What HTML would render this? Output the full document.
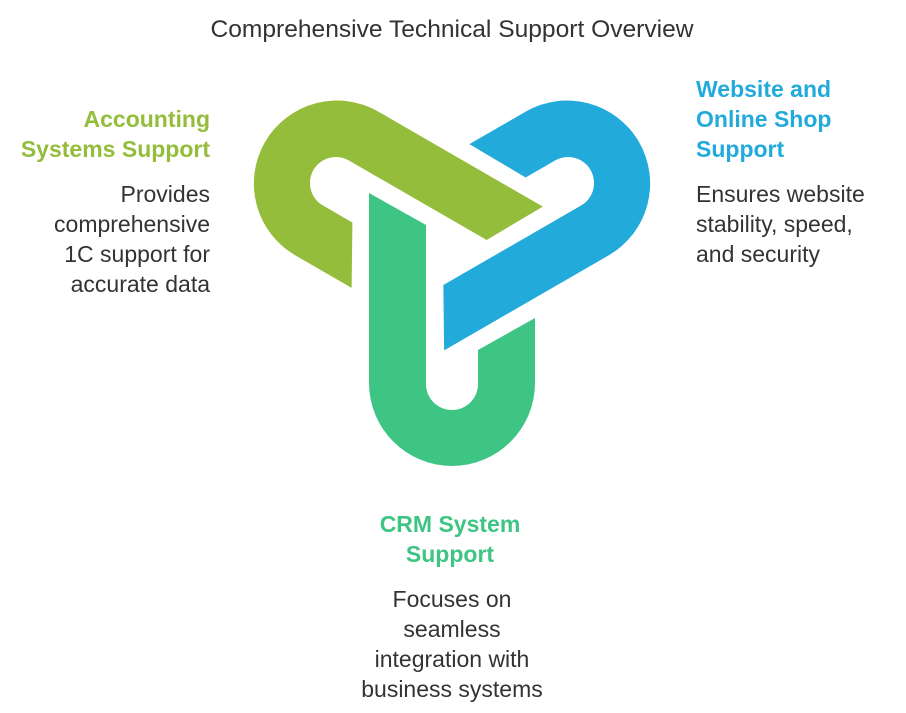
<!DOCTYPE html>
<html><head><meta charset="utf-8"><style>
html,body{margin:0;padding:0;background:#fff;}
svg{display:block;}
text{font-family:"Liberation Sans",sans-serif;}
</style></head><body>
<svg width="906" height="713" viewBox="0 0 906 713" xmlns="http://www.w3.org/2000/svg">
<defs>
<path id="u" d="M369,193 L426,225 L426,384 A26,26 0 0 0 478,384 L478,350 L535,318 L535,383 A83,83 0 0 1 369,383 Z"/>
</defs>
<use href="#u" fill="#3EC483"/>
<use href="#u" fill="#94BD3B" transform="rotate(120 452 250)"/>
<use href="#u" fill="#22AADB" transform="rotate(240 452 250)"/>

<text x="452" y="37" font-size="24" fill="#333" text-anchor="middle" textLength="483" lengthAdjust="spacingAndGlyphs">Comprehensive Technical Support Overview</text>

<g font-size="23" font-weight="bold" fill="#94BD3B" text-anchor="end">
<text x="210" y="127">Accounting</text>
<text x="210" y="157">Systems Support</text>
</g>
<g font-size="23" fill="#333" text-anchor="end">
<text x="210" y="202">Provides</text>
<text x="210" y="232">comprehensive</text>
<text x="210" y="262">1C support for</text>
<text x="210" y="292">accurate data</text>
</g>

<g font-size="23" font-weight="bold" fill="#22AADB">
<text x="696" y="97">Website and</text>
<text x="696" y="127">Online Shop</text>
<text x="696" y="157">Support</text>
</g>
<g font-size="23" fill="#333">
<text x="696" y="202">Ensures website</text>
<text x="696" y="232">stability, speed,</text>
<text x="696" y="262">and security</text>
</g>

<g font-size="23" font-weight="bold" fill="#3EC483" text-anchor="middle">
<text x="450" y="532">CRM System</text>
<text x="450" y="562">Support</text>
</g>
<g font-size="23" fill="#333" text-anchor="middle">
<text x="452" y="607">Focuses on</text>
<text x="452" y="637">seamless</text>
<text x="452" y="667">integration with</text>
<text x="452" y="697">business systems</text>
</g>
</svg>
</body></html>
